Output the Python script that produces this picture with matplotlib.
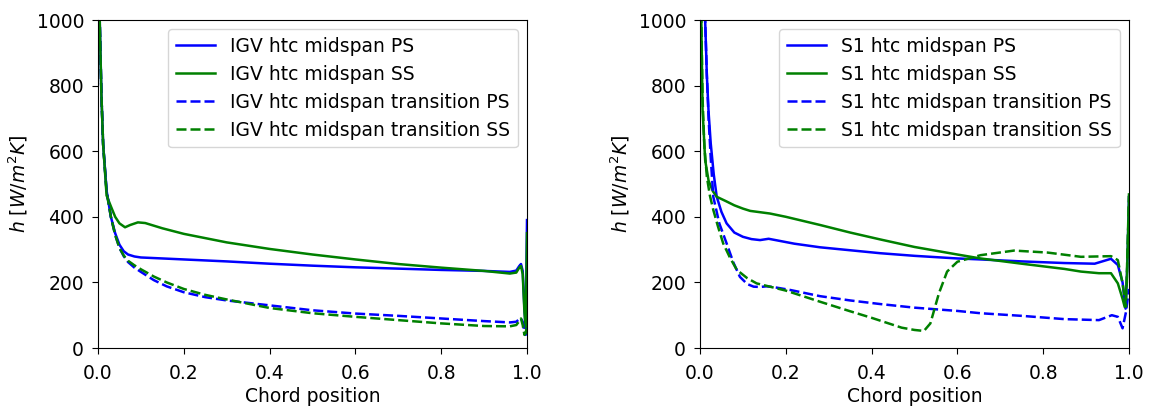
import matplotlib
matplotlib.use("Agg")
import matplotlib.pyplot as plt

# ---------------- IGV (left) ----------------
igv_ps_x = [0.0, 0.004, 0.008, 0.012, 0.02, 0.03, 0.04, 0.05, 0.06, 0.07, 0.085, 0.1, 0.15, 0.2, 0.3, 0.4,
            0.5, 0.6, 0.7, 0.8, 0.9, 0.96, 0.975, 0.982, 0.986, 0.99, 0.994, 0.997, 1.0]
igv_ps_h = [1600, 1000, 770, 620, 480, 400, 350, 315, 295, 285, 279, 276, 273, 270, 264, 257,
            251, 246, 242, 238, 235, 232, 236, 250, 256, 235, 120, 60, 390]

igv_ss_x = [0.0, 0.004, 0.008, 0.012, 0.02, 0.03, 0.04, 0.05, 0.063, 0.075, 0.093, 0.11, 0.15, 0.2, 0.3,
            0.4, 0.5, 0.6, 0.7, 0.8, 0.9, 0.96, 0.975, 0.982, 0.986, 0.99, 0.994, 0.997, 1.0]
igv_ss_h = [1600, 1000, 770, 620, 465, 432, 400, 380, 368, 375, 383, 381, 365, 348, 322,
            302, 285, 270, 256, 245, 235, 227, 230, 245, 250, 225, 110, 60, 350]

igv_tps_x = [0.0, 0.004, 0.008, 0.012, 0.02, 0.03, 0.04, 0.05, 0.06, 0.07, 0.085, 0.1, 0.13, 0.16, 0.2,
             0.25, 0.3, 0.4, 0.5, 0.6, 0.7, 0.8, 0.9, 0.96, 0.975, 0.982, 0.986, 0.99, 0.994, 0.997, 1.0]
igv_tps_h = [1600, 1000, 770, 620, 480, 400, 345, 305, 280, 262, 245, 232, 207, 188, 170,
             155, 145, 130, 115, 105, 98, 90, 82, 78, 80, 88, 90, 80, 50, 40, 60]

igv_tss_x = igv_tps_x
igv_tss_h = [1600, 1000, 770, 620, 475, 400, 345, 305, 282, 266, 252, 240, 218, 200, 180,
             162, 148, 122, 106, 95, 85, 75, 67, 66, 70, 82, 90, 70, 40, 45, 70]

# ---------------- S1 (right) ----------------
s1_ps_x = [0.0, 0.008, 0.012, 0.016, 0.02, 0.025, 0.032, 0.039, 0.05, 0.062, 0.08, 0.1, 0.12, 0.14, 0.16,
           0.18, 0.22, 0.28, 0.35, 0.42, 0.5, 0.6, 0.654, 0.75, 0.85, 0.92, 0.958, 0.974, 0.985, 0.992,
           0.996, 1.0]
s1_ps_h = [1600, 1200, 1000, 830, 720, 624, 530, 461, 415, 380, 352, 339, 332, 329, 333,
           328, 318, 307, 298, 289, 281, 273, 270, 264, 259, 257, 272, 253, 200, 120,
           250, 460]

s1_ss_x = [0.0, 0.003, 0.006, 0.012, 0.02, 0.03, 0.039, 0.06, 0.08, 0.1, 0.117, 0.163, 0.2, 0.28, 0.35,
           0.42, 0.5, 0.6, 0.654, 0.75, 0.85, 0.888, 0.93, 0.958, 0.974, 0.985, 0.99, 0.995, 1.0]
s1_ss_h = [1400, 1000, 726, 573, 510, 478, 461, 448, 435, 425, 418, 410, 400, 375, 352,
           331, 308, 285, 273, 257, 241, 233, 228, 228, 197, 150, 125, 200, 460]

s1_tps_x = [0.0, 0.008, 0.012, 0.016, 0.02, 0.025, 0.031, 0.045, 0.062, 0.078, 0.093, 0.11, 0.125, 0.14,
            0.155, 0.17, 0.21, 0.28, 0.35, 0.42, 0.5, 0.6, 0.654, 0.75, 0.85, 0.93, 0.96, 0.974, 0.985,
            0.993, 1.0]
s1_tps_h = [1600, 1200, 1000, 830, 700, 580, 461, 380, 319, 260, 217, 195, 187, 186,
            188, 186, 177, 158, 145, 134, 123, 113, 106, 98, 88, 85, 100, 95, 60,
            110, 180]

s1_tss_x = [0.0, 0.003, 0.006, 0.01, 0.016, 0.023, 0.031, 0.042, 0.054, 0.07, 0.086, 0.11, 0.132, 0.2,
            0.28, 0.35, 0.4, 0.47, 0.5, 0.522, 0.537, 0.557, 0.576, 0.6, 0.654, 0.732, 0.81, 0.888,
            0.958, 0.974, 0.985, 0.993, 1.0]
s1_tss_h = [1400, 1000, 760, 620, 522, 465, 421, 370, 319, 275, 238, 213, 197, 175,
            141, 112, 92, 62, 55, 52, 75, 167, 233, 263, 283, 297, 291, 278,
            280, 268, 197, 126, 472]

x_ticks = [0.0, 0.2, 0.4, 0.6, 0.8, 1.0]
y_ticks = [0, 200, 400, 600, 800, 1000]

panels = [
    ("IGV", [(igv_ps_x, igv_ps_h), (igv_ss_x, igv_ss_h), (igv_tps_x, igv_tps_h), (igv_tss_x, igv_tss_h)]),
    ("S1", [(s1_ps_x, s1_ps_h), (s1_ss_x, s1_ss_h), (s1_tps_x, s1_tps_h), (s1_tss_x, s1_tss_h)]),
]
suffixes = ["htc midspan PS", "htc midspan SS", "htc midspan transition PS", "htc midspan transition SS"]
styles = [("blue", None), ("green", None), ("blue", (4.0, 1.6)), ("green", (4.0, 1.6))]

plt.rcParams['font.size'] = 13.5
plt.rcParams['xtick.major.size'] = 4.2
plt.rcParams['ytick.major.size'] = 4.2
plt.rcParams['xtick.major.pad'] = 7
plt.rcParams['ytick.major.pad'] = 5.8

fig = plt.figure(figsize=(11.5, 4.07), dpi=100)
lefts = [98 / 1150, 700 / 1150]
for (name, series), left in zip(panels, lefts):
    ax = fig.add_axes([left, 1 - 348 / 407, 429 / 1150, 328 / 407])
    for (x, h), suf, (c, dash) in zip(series, suffixes, styles):
        line, = ax.plot(x, h, color=c, linewidth=1.8, label=f"{name} {suf}")
        if dash is not None:
            line.set_dashes(dash)
    ax.set_xlim(0, 1)
    ax.set_ylim(0, 1000)
    ax.set_xticks(x_ticks)
    ax.set_yticks(y_ticks)
    ax.set_xlabel("Chord position", labelpad=3)
    ax.set_ylabel(r"$h\ [W/m^2K]$", labelpad=5)
    ax.legend(loc="upper right", labelspacing=0.48, handlelength=2.1, borderaxespad=0.5)

fig.savefig("out.png", dpi=100)
